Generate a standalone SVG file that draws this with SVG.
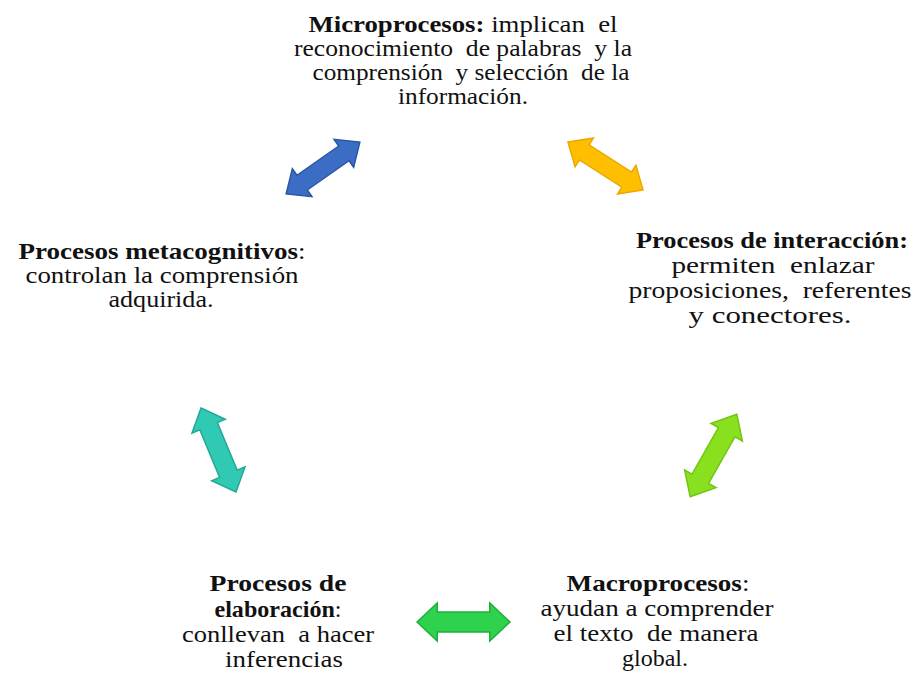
<svg xmlns="http://www.w3.org/2000/svg" width="916" height="675" viewBox="0 0 916 675">
<defs>
<style>
text{font-family:"Liberation Serif","Times New Roman",serif;font-size:23px;fill:#111;text-anchor:middle;white-space:pre}
.b{font-weight:bold}
.arr{stroke-width:1.5;stroke-linejoin:miter}
</style>
<path id="dbl" d="M-46,0 L-26,-19 L-26,-10 L26,-10 L26,-19 L46,0 L26,19 L26,10 L-26,10 L-26,19 Z"/>
</defs>
<rect width="916" height="675" fill="#fff"/>

<g id="micro" font-family="Liberation Serif">
<text x="463" y="32" textLength="309" lengthAdjust="spacingAndGlyphs"><tspan class="b">Microprocesos:</tspan> implican  el</text>
<text x="463" y="56" textLength="338" lengthAdjust="spacingAndGlyphs">reconocimiento  de palabras  y la</text>
<text x="471" y="80" textLength="317" lengthAdjust="spacingAndGlyphs">comprensión  y selección  de la</text>
<text x="463" y="104" textLength="130" lengthAdjust="spacingAndGlyphs">información.</text>
</g>

<g id="meta" font-family="Liberation Serif">
<text x="162" y="259" textLength="287" lengthAdjust="spacingAndGlyphs"><tspan class="b">Procesos metacognitivos</tspan>:</text>
<text x="162" y="283" textLength="273" lengthAdjust="spacingAndGlyphs">controlan la comprensión</text>
<text x="161" y="307" textLength="105" lengthAdjust="spacingAndGlyphs">adquirida.</text>
</g>

<g id="interaccion" font-family="Liberation Serif">
<text x="772" y="248" textLength="272" lengthAdjust="spacingAndGlyphs" class="b">Procesos de interacción:</text>
<text x="773" y="273" textLength="203" lengthAdjust="spacingAndGlyphs">permiten  enlazar</text>
<text x="770" y="298" textLength="283" lengthAdjust="spacingAndGlyphs">proposiciones,  referentes</text>
<text x="770" y="323" textLength="163" lengthAdjust="spacingAndGlyphs">y conectores.</text>
</g>

<g id="elaboracion" font-family="Liberation Serif">
<text x="278" y="591" textLength="137" lengthAdjust="spacingAndGlyphs" class="b">Procesos de</text>
<text x="278" y="617" textLength="127" lengthAdjust="spacingAndGlyphs"><tspan class="b">elaboración</tspan>:</text>
<text x="278" y="642" textLength="192" lengthAdjust="spacingAndGlyphs">conllevan  a hacer</text>
<text x="284" y="667" textLength="118" lengthAdjust="spacingAndGlyphs">inferencias</text>
</g>

<g id="macro" font-family="Liberation Serif">
<text x="658" y="591" textLength="183" lengthAdjust="spacingAndGlyphs"><tspan class="b">Macroprocesos</tspan>:</text>
<text x="657" y="616" textLength="233" lengthAdjust="spacingAndGlyphs">ayudan a comprender</text>
<text x="656" y="641" textLength="205" lengthAdjust="spacingAndGlyphs">el texto  de manera</text>
<text x="655" y="666" textLength="66" lengthAdjust="spacingAndGlyphs">global.</text>
</g>

<g id="connectors">
<use href="#dbl" class="arr" fill="#3c6dc5" stroke="#2a55a0" transform="translate(323,168) rotate(-35.1) scale(0.98,0.9)"/>
<use href="#dbl" class="arr" fill="#ffbf00" stroke="#e8a800" transform="translate(605.5,166) rotate(32.6) scale(0.97,0.9)"/>
<use href="#dbl" class="arr" fill="#30c9b4" stroke="#22a894" transform="translate(218.5,450) rotate(67.4) scale(0.99,0.95)"/>
<use href="#dbl" class="arr" fill="#88e01e" stroke="#72c414" transform="translate(713.5,455.5) rotate(119.5) scale(1.03,0.95)"/>
<use href="#dbl" class="arr" fill="#2fd24c" stroke="#1fb03a" transform="translate(463.5,622) scale(1.01,1)"/>
</g>
</svg>
